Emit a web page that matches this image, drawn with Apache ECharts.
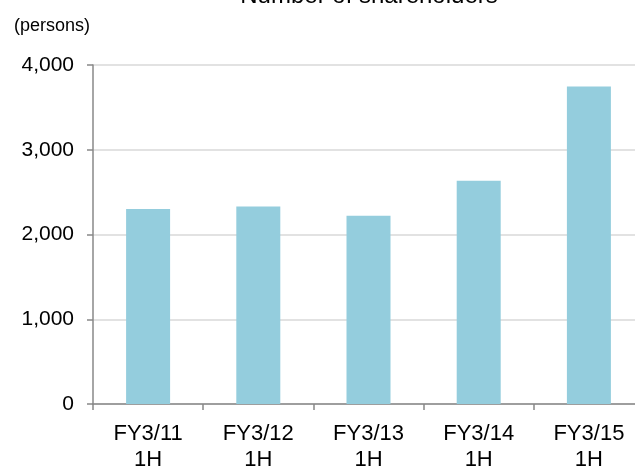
<!DOCTYPE html>
<html>
<head>
<meta charset="utf-8">
<script src="https://cdn.jsdelivr.net/npm/echarts@6/dist/echarts.min.js"></script>
<style>
  html, body { margin: 0; padding: 0; background: #fff; }
  #main { width: 635px; height: 468px; }
</style>
</head>
<body>
<div id="main"></div>
<script>
var categories = ['FY3/11\n1H', 'FY3/12\n1H', 'FY3/13\n1H', 'FY3/14\n1H', 'FY3/15\n1H'];
var shareholders = [2300, 2330, 2220, 2635, 3745];
var yTicks = { min: 0, max: 4000, interval: 1000 };

var myChart = echarts.init(document.getElementById('main'));
var option = {
  animation: false,
  title: {
    text: 'Number of shareholders',
    left: 364,
    textAlign: 'center',
    top: -21,
    textStyle: { color: '#000', fontSize: 24, fontWeight: 'normal', fontFamily: 'Liberation Sans' }
  },
  graphic: [{
    type: 'text',
    left: 14,
    top: 17,
    style: { text: '(persons)', fill: '#000', font: '18px "Liberation Sans"' }
  }],
  grid: { left: 93, width: 551, top: 65, bottom: 64, outerBoundsMode: 'none' },
  xAxis: {
    type: 'category',
    data: categories,
    axisLine: { lineStyle: { color: '#888', width: 1.5 } },
    axisTick: { show: true, length: 6, lineStyle: { color: '#888', width: 1.5 } },
    axisLabel: { color: '#000', fontSize: 22, fontFamily: 'Liberation Sans', lineHeight: 26, margin: 17 }
  },
  yAxis: {
    type: 'value',
    min: yTicks.min,
    max: yTicks.max,
    interval: yTicks.interval,
    axisLine: { show: true, lineStyle: { color: '#888', width: 1.5 } },
    axisTick: { show: true, length: 6, lineStyle: { color: '#888', width: 1.5 } },
    splitLine: { lineStyle: { color: '#d9d9d9', width: 1.5 } },
    axisLabel: { color: '#000', fontSize: 21, fontFamily: 'Liberation Sans', margin: 19 }
  },
  series: [{
    type: 'bar',
    data: shareholders,
    barWidth: 44,
    itemStyle: { color: '#94CDDD' }
  }]
};
myChart.setOption(option);
</script>
</body>
</html>
